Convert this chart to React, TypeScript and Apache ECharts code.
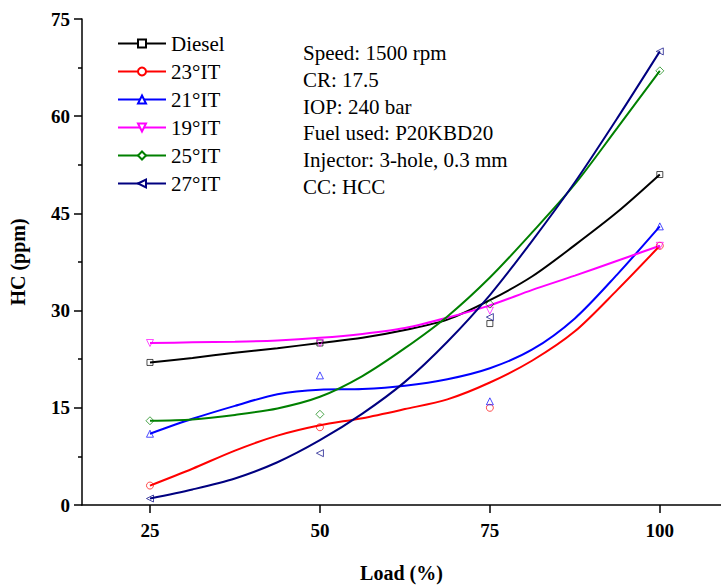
import React, { useEffect, useRef } from "react";
import * as echarts from "echarts";

// Engine load (%) at which HC was measured, and where the fitted curves are sampled
const loads = [25, 50, 75, 100];
const fitLoads = [25, 31.25, 37.5, 43.75, 50, 56.25, 62.5, 68.75, 75, 81.25, 87.5, 93.75, 100];

const seriesNames = ["Diesel", "23°IT", "21°IT", "19°IT", "25°IT", "27°IT"];
const seriesColors = ["#000000", "#ff0000", "#0000ff", "#ff00ff", "#008000", "#000080"];
const markerShapes = ["rect", "circle", "triangle", "triangle", "diamond", "triangle"];
const markerRotations = [0, 0, 0, 180, 0, 90];
const markerSizes = [6, 7, 7, 7, 8, 7];

// Measured HC emissions (ppm)
const dieselHC = [22, 25, 28, 51];
const it23HC = [3, 12, 15, 40];
const it21HC = [11, 20, 16, 43];
const it19HC = [25, 25, 30, 40];
const it25HC = [13, 14, 31, 67];
const it27HC = [1, 8, 29, 70];

// Smoothed trend curves (ppm) at fitLoads
const dieselFit = [22, 22.7, 23.5, 24.2, 25, 25.8, 27, 28.6, 31.6, 35.3, 40.1, 45.2, 51];
const it23Fit = [3, 5.6, 8.4, 10.7, 12.3, 13.4, 14.8, 16.3, 18.9, 22.3, 26.8, 33.2, 40];
const it21Fit = [11, 13.3, 15.3, 17.1, 17.8, 17.9, 18.4, 19.4, 21.1, 24.0, 28.8, 35.6, 43];
const it19Fit = [25, 25.1, 25.2, 25.4, 25.8, 26.4, 27.3, 28.9, 30.8, 33.2, 35.4, 37.7, 40];
const it25Fit = [13, 13.2, 13.9, 14.9, 16.7, 19.9, 24.2, 29.1, 35.1, 42.1, 49.5, 58.2, 67];
const it27Fit = [1, 2.4, 4.1, 6.6, 10, 14.1, 19, 25.2, 32.4, 40.8, 49.8, 59.7, 70];

const measured = [dieselHC, it23HC, it21HC, it19HC, it25HC, it27HC];
const fitted = [dieselFit, it23Fit, it21Fit, it19Fit, it25Fit, it27Fit];

const xTicks = [25, 50, 75, 100];

const infoLines = [
  "Speed: 1500 rpm",
  "CR: 17.5",
  "IOP: 240 bar",
  "Fuel used: P20KBD20",
  "Injector: 3-hole, 0.3 mm",
  "CC: HCC",
];

const FONT = "'Liberation Serif', 'Times New Roman', serif";

export default function App() {
  const ref = useRef<HTMLDivElement>(null);

  useEffect(() => {
    document.body.style.margin = "0";
    if (!ref.current) return;
    const chart = echarts.init(ref.current, null, { renderer: "svg" });

    const lineSeries = seriesNames.map((name, i) => ({
      name,
      type: "line",
      data: fitLoads.map((x, j) => [x, fitted[i][j]]),
      smooth: 0.3,
      symbol: markerShapes[i],
      symbolRotate: markerRotations[i],
      symbolSize: markerSizes[i],
      showSymbol: false,
      lineStyle: { color: seriesColors[i], width: 2 },
      itemStyle: { color: "#ffffff", borderColor: seriesColors[i], borderWidth: 1 },
      z: 2,
      silent: true,
    }));

    const scatterSeries = seriesNames.map((name, i) => ({
      name: name + " data",
      type: "scatter",
      data: loads.map((x, j) => [x, measured[i][j]]),
      symbol: markerShapes[i],
      symbolRotate: markerRotations[i],
      symbolSize: markerSizes[i],
      itemStyle: {
        color: "rgba(255,255,255,0)",
        borderColor: seriesColors[i],
        borderWidth: 1,
        opacity: 0.7,
      },
      z: 3,
      silent: true,
    }));

    chart.setOption({
      animation: false,
      backgroundColor: "#ffffff",
      textStyle: { fontFamily: FONT },
      grid: { left: 80, right: 0, top: 19, bottom: 80, containLabel: false },
      legend: {
        data: seriesNames,
        orient: "vertical",
        left: 117,
        top: 33,
        itemWidth: 48,
        itemHeight: 10,
        itemGap: 7,
        padding: 0,
        selectedMode: false,
        textStyle: { fontFamily: FONT, fontSize: 21, color: "#000", lineHeight: 20 },
      },
      xAxis: {
        type: "value",
        min: 15,
        max: 109,
        name: "Load (%)",
        nameLocation: "middle",
        nameGap: 58,
        nameTextStyle: { fontFamily: FONT, fontSize: 20, fontWeight: "bold", color: "#000" },
        axisLine: { show: true, onZero: false, lineStyle: { color: "#000", width: 1.5 } },
        axisTick: { show: true, length: 8, customValues: xTicks, lineStyle: { color: "#000", width: 1.5 } },
        axisLabel: {
          customValues: xTicks,
          margin: 16,
          fontFamily: FONT,
          fontSize: 19,
          fontWeight: "bold",
          color: "#000",
        },
        splitLine: { show: false },
      },
      yAxis: {
        type: "value",
        min: 0,
        max: 75,
        interval: 15,
        name: "HC (ppm)",
        nameLocation: "middle",
        nameGap: 54,
        nameTextStyle: { fontFamily: FONT, fontSize: 20, fontWeight: "bold", color: "#000" },
        axisLine: { show: true, lineStyle: { color: "#000", width: 1.5 } },
        axisTick: { show: true, length: 8, lineStyle: { color: "#000", width: 1.5 } },
        minorTick: { show: true, splitNumber: 2, length: 4, lineStyle: { color: "#000", width: 1.5 } },
        axisLabel: { margin: 12, fontFamily: FONT, fontSize: 19, fontWeight: "bold", color: "#000" },
        splitLine: { show: false },
      },
      graphic: infoLines.map((t, i) => ({
        type: "text",
        x: 303,
        y: 53 + i * 26.8,
        style: { text: t, fontFamily: FONT, fontSize: 21, fill: "#000", textVerticalAlign: "middle" },
      })),
      series: [...lineSeries, ...scatterSeries],
    });

    return () => chart.dispose();
  }, []);

  return <div ref={ref} style={{ width: 721, height: 588 }} />;
}
